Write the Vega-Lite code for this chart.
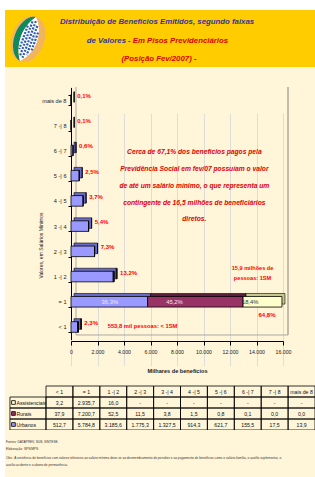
{
  "$schema": "https://vega.github.io/schema/vega-lite/v6.json",
  "background": "white",
  "padding": {"left": 5, "top": 10, "right": 0, "bottom": 0},
  "bounds": "flush",
  "spacing": 0,
  "resolve": {"scale": {"x": "independent", "y": "independent", "fill": "independent"}},
  "config": {
    "view": {"stroke": null},
    "font": "Liberation Sans, Arial, sans-serif",
    "axis": {"labelOverlap": false, "labelSeparation": 0},
    "locale": {"number": {"decimal": ",", "thousands": ".", "grouping": [3], "currency": ["R$", ""]}}
  },
  "datasets": {
    "benef": [
      {"faixa": "< 1", "serie": "Urbanos", "valor": 512.7},
      {"faixa": "= 1", "serie": "Urbanos", "valor": 5784.8},
      {"faixa": "1 -| 2", "serie": "Urbanos", "valor": 3185.6},
      {"faixa": "2 -| 3", "serie": "Urbanos", "valor": 1775.3},
      {"faixa": "3 -| 4", "serie": "Urbanos", "valor": 1327.5},
      {"faixa": "4 -| 5", "serie": "Urbanos", "valor": 914.3},
      {"faixa": "5 -| 6", "serie": "Urbanos", "valor": 621.7},
      {"faixa": "6 -| 7", "serie": "Urbanos", "valor": 155.5},
      {"faixa": "7 -| 8", "serie": "Urbanos", "valor": 17.5},
      {"faixa": "mais de 8", "serie": "Urbanos", "valor": 13.9},
      {"faixa": "< 1", "serie": "Rurais", "valor": 37.9},
      {"faixa": "= 1", "serie": "Rurais", "valor": 7200.7},
      {"faixa": "1 -| 2", "serie": "Rurais", "valor": 52.5},
      {"faixa": "2 -| 3", "serie": "Rurais", "valor": 11.5},
      {"faixa": "3 -| 4", "serie": "Rurais", "valor": 3.8},
      {"faixa": "4 -| 5", "serie": "Rurais", "valor": 1.5},
      {"faixa": "5 -| 6", "serie": "Rurais", "valor": 0.8},
      {"faixa": "6 -| 7", "serie": "Rurais", "valor": 0.1},
      {"faixa": "7 -| 8", "serie": "Rurais", "valor": 0.0},
      {"faixa": "mais de 8", "serie": "Rurais", "valor": 0.0},
      {"faixa": "< 1", "serie": "Assistenciais", "valor": 3.2},
      {"faixa": "= 1", "serie": "Assistenciais", "valor": 2935.7},
      {"faixa": "1 -| 2", "serie": "Assistenciais", "valor": 16.0},
      {"faixa": "2 -| 3", "serie": "Assistenciais", "valor": null},
      {"faixa": "3 -| 4", "serie": "Assistenciais", "valor": null},
      {"faixa": "4 -| 5", "serie": "Assistenciais", "valor": null},
      {"faixa": "5 -| 6", "serie": "Assistenciais", "valor": null},
      {"faixa": "6 -| 7", "serie": "Assistenciais", "valor": null},
      {"faixa": "7 -| 8", "serie": "Assistenciais", "valor": null},
      {"faixa": "mais de 8", "serie": "Assistenciais", "valor": null}
    ],
    "pct": [
      {"faixa": "< 1", "pct": 0.023},
      {"faixa": "= 1", "pct": 0.648},
      {"faixa": "1 -| 2", "pct": 0.132},
      {"faixa": "2 -| 3", "pct": 0.073},
      {"faixa": "3 -| 4", "pct": 0.054},
      {"faixa": "4 -| 5", "pct": 0.037},
      {"faixa": "5 -| 6", "pct": 0.025},
      {"faixa": "6 -| 7", "pct": 0.006},
      {"faixa": "7 -| 8", "pct": 0.001},
      {"faixa": "mais de 8", "pct": 0.001}
    ]
  },
  "vconcat": [
    {
      "width": 310,
      "height": 57,
      "view": {"fill": "#FFCC00", "stroke": null},
      "data": {"values": [{}]},
      "encoding": {
        "x": {"type": "quantitative", "scale": {"domain": [0, 310], "nice": false, "zero": false}, "axis": null},
        "y": {"type": "quantitative", "scale": {"domain": [0, 57], "nice": false, "zero": false, "reverse": true}, "axis": null}
      },
      "layer": [
        {"mark": {"type": "point", "shape": "M0.32,-0.88A0.6,0.94,20,1,1,-0.32,0.88A0.6,0.94,20,1,1,0.32,-0.88Z", "filled": true, "fill": "#F2B45C", "size": 2500, "opacity": 1, "strokeWidth": 0},
         "encoding": {"x": {"datum": 23, "type": "quantitative"}, "y": {"datum": 29, "type": "quantitative"}}},
        {"mark": {"type": "point", "shape": "M0.32,-0.88A0.6,0.94,20,0,0,-0.32,0.88A1.62,1.62,0,0,1,0.32,-0.88Z", "filled": true, "fill": "#0E8A5C", "size": 2500, "opacity": 1, "strokeWidth": 0},
         "encoding": {"x": {"datum": 23, "type": "quantitative"}, "y": {"datum": 29, "type": "quantitative"}}},
        {"mark": {"type": "point", "shape": "M0.32,-0.88A1.62,1.62,0,0,0,-0.32,0.88A1.353,1.353,0,0,0,0.32,-0.88Z", "filled": true, "fill": "#FFFFFF", "size": 2500, "opacity": 1, "strokeWidth": 0},
         "encoding": {"x": {"datum": 23, "type": "quantitative"}, "y": {"datum": 29, "type": "quantitative"}}},
        {"mark": {"type": "point", "shape": "M-0.008,-0.535L-0.35,0.405M0.18,-0.701L-0.312,0.653M0.314,-0.716L-0.22,0.75M0.372,-0.525L-0.052,0.641M0.403,-0.258L0.143,0.456", "filled": false, "stroke": "#2D5BB0", "strokeWidth": 2.2, "strokeDash": [2, 1.4], "size": 2500, "opacity": 1},
         "encoding": {"x": {"datum": 23, "type": "quantitative"}, "y": {"datum": 29, "type": "quantitative"}}},
        {"mark": {"type": "text", "text": "Distribuição de Benefícios Emitidos, segundo faixas", "fontSize": 7.8, "fontWeight": "bold", "fontStyle": "italic", "color": "#34349C", "align": "center", "baseline": "middle"},
         "encoding": {"x": {"datum": 152, "type": "quantitative"}, "y": {"datum": 12, "type": "quantitative"}}},
        {"mark": {"type": "text", "text": "de Valores", "fontSize": 7.8, "fontWeight": "bold", "fontStyle": "italic", "color": "#34349C", "align": "right", "baseline": "middle"},
         "encoding": {"x": {"datum": 121, "type": "quantitative"}, "y": {"datum": 31, "type": "quantitative"}}},
        {"mark": {"type": "text", "text": "- Em Pisos Previdenciários", "fontSize": 7.8, "fontWeight": "bold", "fontStyle": "italic", "color": "#D80000", "align": "left", "baseline": "middle"},
         "encoding": {"x": {"datum": 123, "type": "quantitative"}, "y": {"datum": 31, "type": "quantitative"}}},
        {"mark": {"type": "text", "text": "(Posição Fev/2007) -", "fontSize": 7.8, "fontWeight": "bold", "fontStyle": "italic", "color": "#D80000", "align": "center", "baseline": "middle"},
         "encoding": {"x": {"datum": 154, "type": "quantitative"}, "y": {"datum": 49, "type": "quantitative"}}}
      ]
    },
    {
      "width": 310,
      "height": 319,
      "view": {"fill": "#FFF5D9", "stroke": null},
      "resolve": {"scale": {"fill": "independent"}},
      "layer": [
        {
          "data": {"values": [{}]},
          "mark": {"type": "rule", "color": "#666666", "strokeWidth": 0.8, "xOffset": 5, "yOffset": -13, "y2Offset": 8},
          "encoding": {"x": {"datum": 16000, "type": "quantitative"}, "y": {"datum": "mais de 8", "type": "nominal"}, "y2": {"datum": "< 1"}}
        },
        {
          "data": {"values": [{}]},
          "mark": {"type": "rule", "color": "#8A8A8A", "strokeWidth": 0.7, "xOffset": 5, "yOffset": -13, "y2Offset": 8},
          "encoding": {"x": {"datum": 0, "type": "quantitative"}, "y": {"datum": "mais de 8", "type": "nominal"}, "y2": {"datum": "< 1"}}
        },
        {
          "data": {"values": [{}]},
          "mark": {"type": "rule", "color": "#8A8A8A", "strokeWidth": 0.7, "xOffset": 5, "x2Offset": 5, "yOffset": 8},
          "encoding": {"x": {"datum": 0, "type": "quantitative"}, "x2": {"datum": 16000}, "y": {"datum": "< 1", "type": "nominal"}}
        },
        {
          "data": {"name": "benef"},
          "mark": {"type": "bar", "stroke": "#000000", "strokeWidth": 0.6, "xOffset": 3, "x2Offset": 3, "yOffset": -3, "y2Offset": -3},
          "encoding": {
            "y": {"field": "faixa", "type": "nominal"},
            "x": {"field": "valor", "type": "quantitative", "stack": "zero"},
            "fill": {"field": "serie", "type": "nominal", "scale": {"domain": ["Urbanos", "Rurais", "Assistenciais"], "range": ["#6A6AC8", "#5E1F3F", "#C9C98F"]}, "legend": null},
            "order": {"field": "serie", "sort": "descending"}
          }
        },
        {
          "data": {"name": "benef"},
          "mark": {"type": "bar", "stroke": "#000000", "strokeWidth": 0.8},
          "encoding": {
            "y": {"field": "faixa", "type": "nominal",
                  "scale": {"domain": ["mais de 8", "7 -| 8", "6 -| 7", "5 -| 6", "4 -| 5", "3 -| 4", "2 -| 3", "1 -| 2", "= 1", "< 1"], "range": [20.4, 272.6], "paddingInner": 0.58, "paddingOuter": 0.29},
                  "axis": {"title": "Valores, em Salários Mínimos", "offset": -66, "domainColor": "#000000", "tickColor": "#000000", "tickSize": 3, "tickBand": "extent", "labelFontSize": 5.6, "labelColor": "#222222", "labelPadding": 2, "labelOverlap": false, "grid": false,
                           "titleFontSize": 5, "titleFontWeight": "normal", "titleColor": "#222222", "titleX": -31, "titleY": 178, "titleAlign": "center", "titleBaseline": "middle"}},
            "x": {"field": "valor", "type": "quantitative", "stack": "zero",
                  "scale": {"domain": [0, 16000], "range": [66, 278], "nice": false},
                  "axis": {"title": "Milhares de benefícios", "offset": -45, "values": [0, 2000, 4000, 6000, 8000, 10000, 12000, 14000, 16000], "tickCount": 12, "format": ",d", "grid": true, "gridColor": "#D6D6D6", "gridWidth": 0.8, "domainColor": "#000000", "tickColor": "#000000", "tickSize": 4, "labelFontSize": 5.2, "labelColor": "#222222", "labelPadding": 4, "labelOverlap": false, "labelFlush": false,
                           "titleFontSize": 5.6, "titleFontWeight": "bold", "titleColor": "#222222", "titleY": 27, "titleBaseline": "top"}},
            "fill": {"field": "serie", "type": "nominal", "scale": {"domain": ["Urbanos", "Rurais", "Assistenciais"], "range": ["#9999FF", "#993366", "#FFFFCC"]}, "legend": null},
            "order": {"field": "serie", "sort": "descending"}
          }
        },
        {
          "data": {"name": "benef"},
          "transform": [
            {"aggregate": [{"op": "sum", "field": "valor", "as": "total"}], "groupby": ["faixa"]},
            {"lookup": "faixa", "from": {"data": {"name": "pct"}, "key": "faixa", "fields": ["pct"]}},
            {"filter": "datum.faixa !== '= 1'"}
          ],
          "mark": {"type": "text", "align": "left", "baseline": "middle", "dx": 6, "dy": -4, "color": "#FF0000", "fontWeight": "bold", "fontSize": 6},
          "encoding": {
            "x": {"field": "total", "type": "quantitative"},
            "y": {"field": "faixa", "type": "nominal"},
            "text": {"field": "pct", "type": "quantitative", "format": ".1%"}
          }
        },
        {
          "data": {"name": "benef"},
          "transform": [
            {"aggregate": [{"op": "sum", "field": "valor", "as": "total"}], "groupby": ["faixa"]},
            {"lookup": "faixa", "from": {"data": {"name": "pct"}, "key": "faixa", "fields": ["pct"]}},
            {"filter": "datum.faixa === '= 1'"}
          ],
          "mark": {"type": "text", "align": "center", "baseline": "middle", "dx": -15, "dy": 13, "color": "#FF0000", "fontWeight": "bold", "fontSize": 6},
          "encoding": {
            "x": {"field": "total", "type": "quantitative"},
            "y": {"field": "faixa", "type": "nominal"},
            "text": {"field": "pct", "type": "quantitative", "format": ".1%"}
          }
        },
        {
          "data": {"values": [{}]},
          "mark": {"type": "text", "text": "36,3%", "align": "center", "baseline": "middle", "color": "#EEEEFF", "fontSize": 5.8},
          "encoding": {"x": {"datum": 2930, "type": "quantitative"}, "y": {"datum": "= 1", "type": "nominal"}}
        },
        {
          "data": {"values": [{}]},
          "mark": {"type": "text", "text": "45,2%", "align": "center", "baseline": "middle", "color": "#F4E6EE", "fontSize": 5.8},
          "encoding": {"x": {"datum": 7810, "type": "quantitative"}, "y": {"datum": "= 1", "type": "nominal"}}
        },
        {
          "data": {"values": [{}]},
          "mark": {"type": "text", "text": "18,4%", "align": "center", "baseline": "middle", "color": "#333333", "fontSize": 5.8},
          "encoding": {"x": {"datum": 13520, "type": "quantitative"}, "y": {"datum": "= 1", "type": "nominal"}}
        },
        {
          "data": {"values": [{}]},
          "mark": {"type": "text", "text": ["Cerca de 67,1% dos benefícios pagos pela", "Previdência Social em fev/07  possuíam o valor", "de até um salário mínimo, o que representa um", "contingente de 16,5 milhões de beneficiários", "diretos."], "align": "center", "baseline": "middle", "lineHeight": 16.7, "dy": 2, "color": "#E00000", "fontSize": 6.7, "fontWeight": "bold", "fontStyle": "italic"},
          "encoding": {"x": {"datum": 9310, "type": "quantitative"}, "y": {"datum": "6 -| 7", "type": "nominal"}}
        },
        {
          "data": {"values": [{}]},
          "mark": {"type": "text", "text": ["15,9 milhões de", "pessoas: 1SM"], "align": "center", "baseline": "middle", "lineHeight": 10.5, "dy": -9, "color": "#FF0000", "fontSize": 5.6, "fontWeight": "bold"},
          "encoding": {"x": {"datum": 13700, "type": "quantitative"}, "y": {"datum": "1 -| 2", "type": "nominal"}}
        },
        {
          "data": {"values": [{}]},
          "mark": {"type": "text", "text": "553,8 mil pessoas: < 1SM", "align": "center", "baseline": "middle", "dy": -1, "color": "#FF0000", "fontSize": 5.8, "fontWeight": "bold"},
          "encoding": {"x": {"datum": 5400, "type": "quantitative"}, "y": {"datum": "< 1", "type": "nominal"}}
        }
      ]
    },
    {
      "width": 310,
      "height": 44,
      "view": {"fill": "#FFF5D9", "stroke": null},
      "resolve": {"scale": {"fill": "independent"}},
      "layer": [
        {
          "data": {"name": "benef"},
          "mark": {"type": "rect", "filled": false, "stroke": "#000000", "strokeWidth": 0.8},
          "encoding": {
            "x": {"field": "faixa", "type": "nominal", "scale": {"domain": ["< 1", "= 1", "1 -| 2", "2 -| 3", "3 -| 4", "4 -| 5", "5 -| 6", "6 -| 7", "7 -| 8", "mais de 8"], "range": [41, 310], "paddingInner": 0, "paddingOuter": 0}, "axis": null},
            "y": {"field": "serie", "type": "nominal", "scale": {"domain": ["cab", "Assistenciais", "Rurais", "Urbanos"], "paddingInner": 0, "paddingOuter": 0}, "axis": null}
          }
        },
        {
          "data": {"name": "benef"},
          "transform": [{"aggregate": [{"op": "count", "as": "n"}], "groupby": ["faixa"]}],
          "mark": {"type": "rect", "filled": false, "stroke": "#000000", "strokeWidth": 0.8},
          "encoding": {
            "x": {"field": "faixa", "type": "nominal"},
            "y": {"datum": "cab", "type": "nominal"}
          }
        },
        {
          "data": {"name": "benef"},
          "transform": [{"aggregate": [{"op": "count", "as": "n"}], "groupby": ["serie"]}],
          "mark": {"type": "rect", "filled": false, "stroke": "#000000", "strokeWidth": 0.8, "width": 36, "xOffset": -31.5},
          "encoding": {
            "x": {"datum": "< 1", "type": "nominal"},
            "y": {"field": "serie", "type": "nominal"}
          }
        },
        {
          "data": {"name": "benef"},
          "transform": [{"aggregate": [{"op": "count", "as": "n"}], "groupby": ["serie"]}],
          "mark": {"type": "point", "shape": "square", "filled": true, "size": 14, "opacity": 1, "stroke": "#000000", "strokeWidth": 0.8, "xOffset": -46},
          "encoding": {
            "x": {"datum": "< 1", "type": "nominal"},
            "y": {"field": "serie", "type": "nominal"},
            "fill": {"field": "serie", "type": "nominal", "scale": {"domain": ["Urbanos", "Rurais", "Assistenciais"], "range": ["#9999FF", "#993366", "#FFFFCC"]}, "legend": null}
          }
        },
        {
          "data": {"name": "benef"},
          "transform": [{"aggregate": [{"op": "count", "as": "n"}], "groupby": ["serie"]}],
          "mark": {"type": "text", "align": "left", "baseline": "middle", "dx": -43, "fontSize": 5.2, "color": "#111111"},
          "encoding": {
            "x": {"datum": "< 1", "type": "nominal"},
            "y": {"field": "serie", "type": "nominal"},
            "text": {"field": "serie", "type": "nominal"}
          }
        },
        {
          "data": {"name": "benef"},
          "transform": [{"aggregate": [{"op": "count", "as": "n"}], "groupby": ["faixa"]}],
          "mark": {"type": "text", "baseline": "middle", "fontSize": 5.2, "color": "#111111"},
          "encoding": {
            "x": {"field": "faixa", "type": "nominal"},
            "y": {"datum": "cab", "type": "nominal"},
            "text": {"field": "faixa", "type": "nominal"}
          }
        },
        {
          "data": {"name": "benef"},
          "transform": [{"filter": "datum.valor != null"}],
          "mark": {"type": "text", "baseline": "middle", "fontSize": 5.2, "color": "#111111"},
          "encoding": {
            "x": {"field": "faixa", "type": "nominal"},
            "y": {"field": "serie", "type": "nominal"},
            "text": {"field": "valor", "type": "quantitative", "format": ",.1f"}
          }
        },
        {
          "data": {"name": "benef"},
          "transform": [{"filter": "datum.valor == null"}],
          "mark": {"type": "text", "baseline": "middle", "fontSize": 5.2, "color": "#111111", "text": "-"},
          "encoding": {
            "x": {"field": "faixa", "type": "nominal"},
            "y": {"field": "serie", "type": "nominal"}
          }
        }
      ]
    },
    {
      "width": 310,
      "height": 47,
      "view": {"fill": "#FFF5D9", "stroke": null},
      "data": {"values": [{}]},
      "encoding": {
        "x": {"type": "quantitative", "scale": {"domain": [0, 310], "nice": false, "zero": false}, "axis": null},
        "y": {"type": "quantitative", "scale": {"domain": [0, 47], "nice": false, "zero": false, "reverse": true}, "axis": null}
      },
      "layer": [
        {"mark": {"type": "text", "text": ["Fontes: DATAPREV, SUB, SINTESE.", "Elaboração: SPS/MPS."], "align": "left", "baseline": "middle", "fontSize": 3.2, "lineHeight": 7, "color": "#333333"},
         "encoding": {"x": {"datum": 1, "type": "quantitative"}, "y": {"datum": 11.5, "type": "quantitative"}}},
        {"mark": {"type": "text", "text": ["Obs.: A existência de benefícios com valores inferiores ao salário mínimo deve-se ao desmembramento de pensões e ao pagamento de benefícios como o salário-família, o auxílio suplementar, o", "auxílio acidente e o abono de permanência."], "align": "left", "baseline": "middle", "fontSize": 3.2, "lineHeight": 7, "color": "#333333"},
         "encoding": {"x": {"datum": 1, "type": "quantitative"}, "y": {"datum": 27.5, "type": "quantitative"}}}
      ]
    }
  ]
}
